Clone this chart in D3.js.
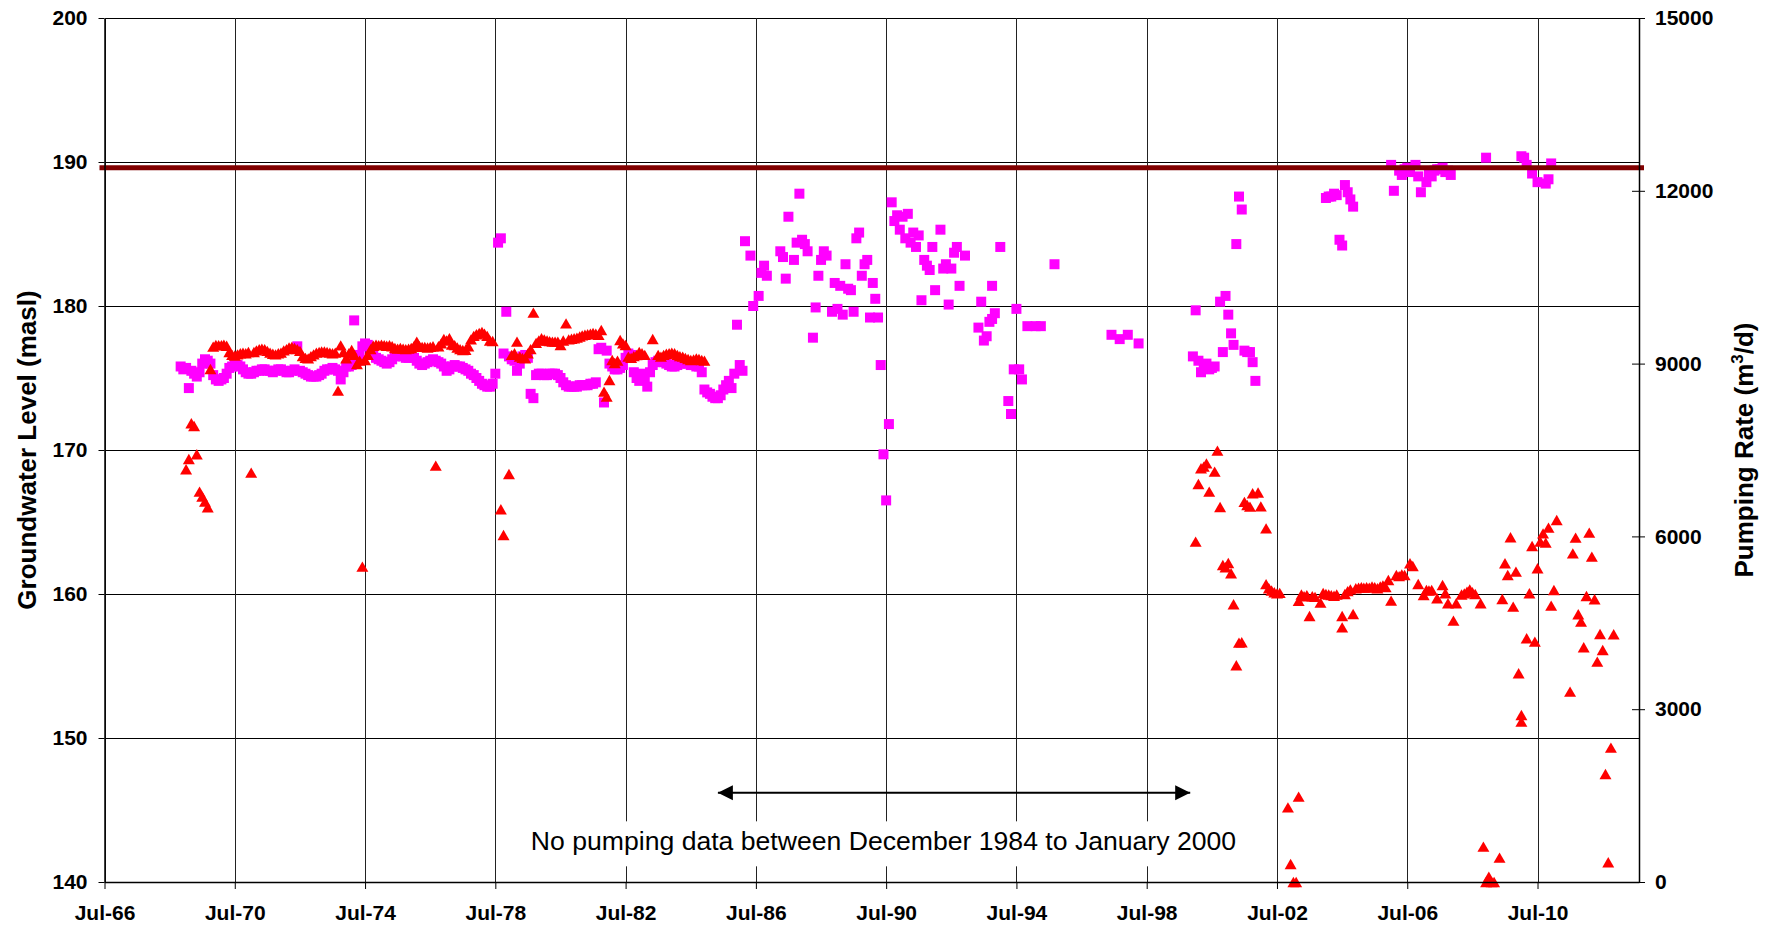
<!DOCTYPE html>
<html>
<head>
<meta charset="utf-8">
<title>Groundwater level and pumping rate</title>
<script src="https://cdn.jsdelivr.net/npm/d3@7"></script>
<style>
  body { margin: 0; background: #fff; }
  svg { display: block; font-family: "Liberation Sans", Arial, sans-serif; }
</style>
</head>
<body>
<script>
// ---- data ----
// groundwater level (masl), one reading a month from Nov 1968 to Dec 1985
var levelStart = "1968-11";
var levelMonthly = [
  175.8, 175.6,
  175.7, 174.3, 175.5, 175.3, 175.1, 175.4, 176.0, 176.3, 176.2, 176.0, 175.2, 174.9, // 1969
  174.8, 174.9, 175.0, 175.3, 175.7, 175.8, 175.9, 175.9, 175.8, 175.6, 175.4, 175.3, // 1970
  175.3, 175.4, 175.5, 175.5, 175.6, 175.6, 175.5, 175.5, 175.4, 175.5, 175.6, 175.6, // 1971
  175.5, 175.4, 175.4, 175.5, 175.6, 177.2, 175.5, 175.4, 175.3, 175.2, 175.1, 175.1, // 1972
  175.1, 175.2, 175.3, 175.5, 175.6, 175.6, 175.7, 175.6, 175.5, 174.9, 175.4, 175.8, // 1973
  175.8, 175.9, 179.0, 176.2, 176.6, 177.2, 177.4, 177.3, 176.9, 176.6, 176.4, 176.3, // 1974
  176.2, 176.1, 176.0, 176.1, 176.3, 176.5, 176.6, 176.6, 176.5, 176.4, 176.4, 176.5, // 1975
  176.4, 176.2, 176.0, 175.9, 176.0, 176.1, 176.2, 176.3, 176.2, 176.1, 176.0, 175.8, // 1976
  175.5, 175.6, 175.8, 175.9, 175.8, 175.8, 175.7, 175.6, 175.5, 175.3, 175.2, 175.0, // 1977
  174.8, 174.6, 174.5, 174.4, 174.4, 174.6, 175.3, 184.4, 184.7, 176.7, 179.6, 176.5, // 1978
  176.3, 176.2, 175.5, 176.0, 176.5, 176.6, 176.4, 173.9, 173.6, 175.2, 175.3, 175.3, // 1979
  175.2, 175.2, 175.3, 175.3, 175.3, 175.2, 175.0, 174.7, 174.5, 174.4, 174.4, 174.4, // 1980
  174.4, 174.5, 174.5, 174.5, 174.5, 174.6, 174.6, 174.7, 177.0, 177.1, 173.3, 176.9, // 1981
  176.0, 175.8, 175.6, 175.6, 175.7, 175.9, 176.4, 176.7, 176.6, 175.4, 175.0, 174.8, // 1982
  175.3, 175.0, 174.4, 175.4, 175.9, 176.1, 176.2, 176.2, 176.1, 176.0, 175.9, 175.8, // 1983
  175.8, 175.9, 176.0, 176.0, 176.1, 176.0, 175.9, 175.9, 175.8, 175.8, 175.4, 174.2, // 1984
  174.0, 173.9, 173.7, 173.6, 173.6, 173.8, 174.2, 174.5, 174.8, 174.3, 175.3, 178.7  // 1985
];
// groundwater level, scattered readings after 1985
var levelPoints = [
  ["1986-01", 175.9], ["1986-02", 175.5], ["1986-03", 184.5], ["1986-05", 183.5], ["1986-06", 180.0],
  ["1986-08", 180.7], ["1986-09", 182.3], ["1986-10", 182.8], ["1986-11", 182.1],
  ["1987-04", 183.8], ["1987-05", 183.4], ["1987-06", 181.9], ["1987-07", 186.2], ["1987-09", 183.2],
  ["1987-10", 184.4], ["1987-11", 187.8], ["1987-12", 184.6],
  ["1988-01", 184.3], ["1988-02", 183.8], ["1988-04", 177.8], ["1988-05", 179.9], ["1988-06", 182.1],
  ["1988-07", 183.2], ["1988-08", 183.8], ["1988-09", 183.5], ["1988-11", 179.6], ["1988-12", 181.6],
  ["1989-01", 179.8], ["1989-02", 181.4], ["1989-03", 179.4], ["1989-04", 182.9], ["1989-05", 181.2],
  ["1989-06", 181.1], ["1989-07", 179.6], ["1989-08", 184.7], ["1989-09", 185.1], ["1989-10", 182.1],
  ["1989-11", 182.9], ["1989-12", 183.2],
  ["1990-01", 179.2], ["1990-02", 181.6], ["1990-03", 180.5], ["1990-04", 179.2], ["1990-05", 175.9],
  ["1990-06", 169.7], ["1990-07", 166.5], ["1990-08", 171.8], ["1990-09", 187.2], ["1990-10", 185.9],
  ["1990-11", 186.3], ["1990-12", 185.3],
  ["1991-01", 186.2], ["1991-02", 184.7], ["1991-03", 186.4], ["1991-04", 184.4], ["1991-05", 185.1],
  ["1991-06", 184.1], ["1991-07", 184.9], ["1991-08", 180.4], ["1991-09", 183.2], ["1991-10", 182.8],
  ["1991-11", 182.5], ["1991-12", 184.1],
  ["1992-01", 181.1], ["1992-03", 185.3], ["1992-04", 182.6], ["1992-05", 182.9], ["1992-06", 180.1],
  ["1992-07", 182.6], ["1992-08", 183.7], ["1992-09", 184.1], ["1992-10", 181.4], ["1992-12", 183.5],
  ["1993-05", 178.5], ["1993-06", 180.3], ["1993-07", 177.6], ["1993-08", 177.9], ["1993-09", 178.9],
  ["1993-10", 179.1], ["1993-10", 181.4], ["1993-11", 179.5],
  ["1994-01", 184.1], ["1994-04", 173.4], ["1994-05", 172.5], ["1994-06", 175.6], ["1994-07", 179.8],
  ["1994-08", 175.6], ["1994-09", 174.9], ["1994-11", 178.6],
  ["1995-02", 178.6], ["1995-04", 178.6], ["1995-09", 182.9],
  ["1997-06", 178.0], ["1997-09", 177.7], ["1997-12", 178.0], ["1998-04", 177.4],
  ["1999-12", 176.5], ["2000-01", 179.7], ["2000-02", 176.2], ["2000-03", 175.4], ["2000-04", 175.9],
  ["2000-05", 176.0], ["2000-06", 175.6], ["2000-07", 175.7], ["2000-08", 175.8], ["2000-10", 180.3],
  ["2000-11", 176.8], ["2000-12", 180.7], ["2001-01", 179.4], ["2001-02", 178.1], ["2001-03", 177.3],
  ["2001-04", 184.3], ["2001-05", 187.6], ["2001-06", 186.7], ["2001-07", 176.9], ["2001-08", 176.8],
  ["2001-09", 176.8], ["2001-10", 176.1], ["2001-11", 174.8],
  ["2004-01", 187.5], ["2004-02", 187.6], ["2004-03", 187.6], ["2004-04", 187.8], ["2004-05", 187.7],
  ["2004-06", 184.6], ["2004-07", 184.2], ["2004-08", 188.4], ["2004-09", 187.9], ["2004-10", 187.4],
  ["2004-11", 186.9],
  ["2006-01", 189.8], ["2006-02", 188.0], ["2006-04", 189.4], ["2006-05", 189.1], ["2006-06", 189.5],
  ["2006-07", 189.6], ["2006-08", 189.3], ["2006-10", 189.8], ["2006-11", 189.0], ["2006-12", 187.9],
  ["2007-02", 188.6], ["2007-03", 189.2], ["2007-04", 189.0], ["2007-05", 189.4], ["2007-06", 189.5],
  ["2007-07", 189.5], ["2007-08", 189.6], ["2007-09", 189.3], ["2007-10", 189.4], ["2007-11", 189.1],
  ["2008-12", 190.3],
  ["2010-01", 190.4], ["2010-02", 190.3], ["2010-03", 189.8], ["2010-05", 189.2], ["2010-07", 188.6],
  ["2010-10", 188.5], ["2010-11", 188.8], ["2010-12", 189.9]
];

// pumping rate (m3/d), one value a month from Jan 1969 to Dec 1984 (null = no value)
var pumpStart = "1969-01";
var pumpMonthly = [
  7165, 7344, 7963, 7917, 7425, 6776, 6690, 6603, 6505, 8906, 9294, 9323, // 1969
  9320, 9320, 9330, 9310, 9200, 9150, 9140, 9160, 9180, 9190, 9180, 9200, // 1970
  7106, 9200, 9230, 9250, 9260, 9250, 9220, 9190, 9170, 9160, 9180, 9190, // 1971
  9230, 9250, 9280, 9290, 9270, 9250, 9220, 9130, 9100, 9090, 9130, 9160, // 1972
  9190, 9200, 9210, 9210, 9200, 9190, 9180, 9190, 8530, 9317, 9200, 9092, // 1973
  9180, 9236, 9150, 8993, 9050, 5474, 9063, 9150, 9250, 9310, 9330, 9320, // 1974
  9330, 9320, 9310, 9320, 9300, 9270, 9260, 9270, 9260, 9250, 9260, 9270, // 1975
  9300, 9380, 9300, 9290, 9290, 9280, 9290, 9300, 7228, 9300, 9350, 9427, // 1976
  9400, 9439, 9330, 9320, 9280, 9250, 9236, 9240, 9300, 9420, 9480, 9510, // 1977
  9530, 9550, 9520, 9480, 9400, 9392, null, null, 6470, 6024, null, 7083, // 1978
  9150, 9180, 9380, 9120, 9100, 9092, 9178, 9250, 9884, 9360, 9400, 9440, // 1979
  9420, 9400, 9390, 9380, 9380, 9380, 9323, 9400, 9699, 9420, 9430, 9440, // 1980
  9450, 9470, 9490, 9500, 9510, 9520, 9530, 9520, 9500, 9583, 8512, 8426, // 1981
  8715, 9063, 9010, 9050, 9410, 9350, 9323, 9120, 9100, 9130, 9149, 9200, // 1982
  9180, 9150, null, null, 9427, null, 9150, 9120, 9150, 9170, 9180, 9190, // 1983
  9180, 9150, 9130, 9120, 9100, 9080, 9063, 9070, 9090, 9080, 9063, 9050  // 1984
];
// pumping rate, readings from January 2000
var pumpPoints = [
  ["2000-01", 5908], ["2000-02", 6910], ["2000-03", 7182], ["2000-04", 7210], ["2000-05", 7268],
  ["2000-06", 6776], ["2000-08", 7123], ["2000-09", 7488], ["2000-10", 6510], ["2000-11", 5503],
  ["2000-12", 5463], ["2001-01", 5538], ["2001-02", 5359], ["2001-03", 4821], ["2001-04", 3762],
  ["2001-05", 4155], ["2001-06", 4161], ["2001-07", 6600], ["2001-08", 6545], ["2001-09", 6516],
  ["2001-10", 6748], ["2001-12", 6762], ["2002-01", 6520], ["2002-03", 6140],
  ["2002-03", 5170], ["2002-04", 5100], ["2002-05", 5060], ["2002-06", 5030], ["2002-07", 5010],
  ["2002-08", 5020], ["2002-11", 1296], ["2002-12", 312], ["2003-01", 0], ["2003-02", 0],
  ["2003-03", 1481], ["2003-03", 4880], ["2003-04", 4990], ["2003-05", 4960], ["2003-06", 4980],
  ["2003-07", 4618], ["2003-08", 4960], ["2003-09", 4950], ["2003-11", 4849], ["2003-12", 5016],
  ["2004-01", 5000], ["2004-02", 4990], ["2004-03", 4980], ["2004-04", 4970], ["2004-05", 4990],
  ["2004-07", 4618], ["2004-07", 4421], ["2004-08", 5000], ["2004-09", 5050], ["2004-10", 5080],
  ["2004-11", 4653], ["2004-12", 5100], ["2005-01", 5110], ["2005-02", 5120], ["2005-03", 5110],
  ["2005-04", 5120], ["2005-05", 5110], ["2005-06", 5130], ["2005-07", 5120], ["2005-08", 5100],
  ["2005-09", 5130], ["2005-10", 5150], ["2005-11", 5120], ["2005-12", 5243],
  ["2006-01", 4884], ["2006-03", 5330], ["2006-04", 5310], ["2006-05", 5340], ["2006-06", 5330],
  ["2006-08", 5533], ["2006-09", 5486], ["2006-11", 5174], ["2007-01", 4983], ["2007-02", 5069],
  ["2007-03", 5060], ["2007-04", 5069], ["2007-06", 4925], ["2007-08", 5156], ["2007-09", 5012],
  ["2007-10", 4838], ["2007-12", 4537], ["2008-01", 4838], ["2008-03", 4990], ["2008-04", 5010],
  ["2008-05", 5040], ["2008-06", 5081], ["2008-07", 5030], ["2008-08", 5000], ["2008-10", 4838],
  ["2008-11", 613], ["2008-12", 0], ["2009-01", 92], ["2009-02", 0], ["2009-03", 0],
  ["2009-05", 422], ["2009-06", 4913], ["2009-07", 5533], ["2009-08", 5330], ["2009-09", 5984],
  ["2009-10", 4780], ["2009-11", 5388], ["2009-12", 3623], ["2010-01", 2783], ["2010-01", 2899],
  ["2010-03", 4231], ["2010-04", 5012], ["2010-05", 5833], ["2010-06", 4172], ["2010-07", 5446],
  ["2010-08", 5908], ["2010-09", 6053], ["2010-10", 5891], ["2010-11", 6151], ["2010-12", 4797],
  ["2011-01", 5069], ["2011-02", 6285], ["2011-07", 3304], ["2011-08", 5706], ["2011-09", 5978],
  ["2011-10", 4647], ["2011-11", 4519], ["2011-12", 4075], ["2012-01", 4965], ["2012-02", 6064],
  ["2012-03", 5648], ["2012-04", 4908], ["2012-05", 3825], ["2012-06", 4306], ["2012-07", 4028],
  ["2012-08", 1875], ["2012-09", 342], ["2012-10", 2332], ["2012-11", 4300]
];

// axes
var xTickDates = ["1966-07", "1970-07", "1974-07", "1978-07", "1982-07", "1986-07",
                  "1990-07", "1994-07", "1998-07", "2002-07", "2006-07", "2010-07"];
var levelTicks = [140, 150, 160, 170, 180, 190, 200];
var pumpTicks = [0, 3000, 6000, 9000, 12000, 15000];

// annotations
var refLevel = 189.6;
var noteText = "No pumping data between December 1984 to January 2000";
var noteDate = "1990-06", noteLevel = 142.2;
var arrowFrom = "1985-05", arrowTo = "1999-11", arrowLevel = 146.2;

// ---- chart ----
var parseMonth = d3.timeParse("%Y-%m");

function monthly(start, values) {
  var t0 = parseMonth(start);
  return values.map(function(v, i) { return {date: d3.timeMonth.offset(t0, i), value: v}; })
               .filter(function(d) { return d.value != null; });
}
function pairs(arr) {
  return arr.map(function(p) { return {date: parseMonth(p[0]), value: p[1]}; });
}

var levelData = monthly(levelStart, levelMonthly).concat(pairs(levelPoints));
var pumpData = monthly(pumpStart, pumpMonthly).concat(pairs(pumpPoints));

// plot area
var plot = {x0: 104.5, x1: 1639, y0: 18, y1: 882};

var svg = d3.select("body").append("svg")
            .attr("width", 1777)
            .attr("height", 928);

var x = d3.scaleTime()
          .domain([new Date(1966, 6, 1), new Date(2013, 7, 12)])
          .range([plot.x0, plot.x1]);
var yLeft = d3.scaleLinear().domain([140, 200]).range([plot.y1, plot.y0]);
var yRight = d3.scaleLinear().domain([0, 15000]).range([plot.y1, plot.y0]);

// grid
var grid = svg.append("g").attr("stroke", "#000").attr("stroke-width", 1)
              .attr("shape-rendering", "crispEdges");
grid.selectAll(".hg").data(levelTicks).join("line")
    .attr("x1", plot.x0).attr("x2", plot.x1)
    .attr("y1", function(d) { return Math.round(yLeft(d)) + 0.5; })
    .attr("y2", function(d) { return Math.round(yLeft(d)) + 0.5; });
grid.selectAll(".vg").data(xTickDates).join("line")
    .attr("x1", function(d) { return Math.round(x(parseMonth(d))) + 0.5; })
    .attr("x2", function(d) { return Math.round(x(parseMonth(d))) + 0.5; })
    .attr("y1", plot.y0).attr("y2", plot.y1)
    .attr("stroke", "#222");

// note with white box (hides the grid behind it)
var note = svg.append("g");
var noteLabel = note.append("text")
    .attr("x", x(parseMonth(noteDate)))
    .attr("y", yLeft(noteLevel))
    .attr("text-anchor", "middle")
    .style("font-size", "26.6px")
    .text(noteText);
var bb = noteLabel.node().getBBox();
note.insert("rect", "text")
    .attr("x", bb.x - 8).attr("y", bb.y - 5)
    .attr("width", bb.width + 16).attr("height", bb.height + 15)
    .attr("fill", "#fff");

// double arrow
var defs = svg.append("defs");
["arrowEnd", "arrowStart"].forEach(function(id, i) {
  defs.append("marker")
      .attr("id", id)
      .attr("markerUnits", "userSpaceOnUse")
      .attr("viewBox", "0 -8 16 16")
      .attr("refX", 15).attr("refY", 0)
      .attr("markerWidth", 16).attr("markerHeight", 16)
      .attr("orient", i === 0 ? "auto" : "auto-start-reverse")
    .append("path")
      .attr("d", "M0,-7.5L15,0L0,7.5Z")
      .attr("fill", "#000");
});
svg.append("line")
   .attr("x1", x(parseMonth(arrowFrom))).attr("x2", x(parseMonth(arrowTo)))
   .attr("y1", yLeft(arrowLevel)).attr("y2", yLeft(arrowLevel))
   .attr("stroke", "#000").attr("stroke-width", 2)
   .attr("marker-start", "url(#arrowStart)")
   .attr("marker-end", "url(#arrowEnd)");

// groundwater level: magenta squares
svg.append("g").selectAll("path").data(levelData).join("path")
   .attr("d", d3.symbol(d3.symbolSquare, 100))
   .attr("transform", function(d) { return "translate(" + x(d.date) + "," + yLeft(d.value) + ")"; })
   .attr("fill", "#ff00ff");

// pumping rate: red triangles
svg.append("g").selectAll("path").data(pumpData).join("path")
   .attr("d", d3.symbol(d3.symbolTriangle, 62))
   .attr("transform", function(d) { return "translate(" + x(d.date) + "," + (yRight(d.value) + 1.7) + ")"; })
   .attr("fill", "#ff0000");

// reference level line (drawn across the whole plot)
svg.append("line")
   .attr("x1", plot.x0 - 5).attr("x2", plot.x1 + 5)
   .attr("y1", yLeft(refLevel)).attr("y2", yLeft(refLevel))
   .attr("stroke", "#800000").attr("stroke-width", 5);

// axes
var axisLeft = d3.axisLeft(yLeft).tickValues(levelTicks)
                 .tickSize(6).tickSizeOuter(0).tickPadding(11);
var gLeft = svg.append("g").attr("transform", "translate(" + plot.x0 + ",0)").call(axisLeft);

var axisBottom = d3.axisBottom(x).tickValues(xTickDates.map(parseMonth))
                   .tickFormat(d3.timeFormat("%b-%y"))
                   .tickSize(7).tickSizeOuter(0).tickPadding(16);
var gBottom = svg.append("g").attr("transform", "translate(0," + plot.y1 + ")").call(axisBottom);

var axisRight = d3.axisRight(yRight).tickValues(pumpTicks)
                  .tickFormat(d3.format("d"))
                  .tickSize(6).tickSizeOuter(0).tickPadding(10);
var gRight = svg.append("g").attr("transform", "translate(" + plot.x1 + ",0)").call(axisRight);
gRight.selectAll(".tick line").attr("x1", -7);

[gLeft, gBottom, gRight].forEach(function(g) {
  g.selectAll("text")
   .style("font-family", "'Liberation Sans', Arial, sans-serif")
   .style("font-size", "21px")
   .style("font-weight", "bold")
   .attr("fill", "#000");
  g.select(".domain").attr("stroke", "#000").attr("stroke-width", 1.5);
  g.selectAll(".tick line").attr("stroke", "#000");
});

// axis titles
svg.append("text")
   .attr("transform", "translate(36," + (plot.y0 + plot.y1) / 2 + ") rotate(-90)")
   .attr("text-anchor", "middle")
   .style("font-size", "26px")
   .style("font-weight", "bold")
   .text("Groundwater Level (masl)");

var rightTitle = svg.append("text")
   .attr("transform", "translate(1753," + (plot.y0 + plot.y1) / 2 + ") rotate(-90)")
   .attr("text-anchor", "middle")
   .style("font-size", "26px")
   .style("font-weight", "bold");
rightTitle.append("tspan").text("Pumping Rate (m");
rightTitle.append("tspan").attr("dy", "-10").style("font-size", "17px").text("3");
rightTitle.append("tspan").attr("dy", "10").text("/d)");
</script>
</body>
</html>
